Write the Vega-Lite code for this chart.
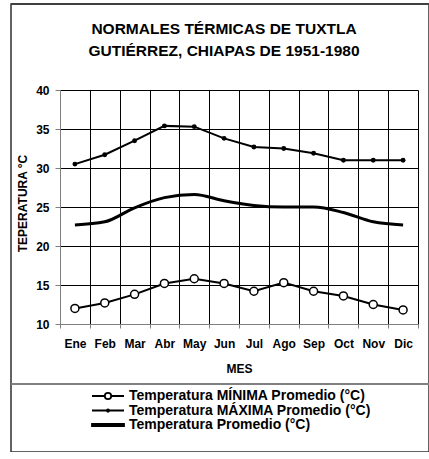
{
  "$schema": "https://vega.github.io/schema/vega-lite/v6.json",
  "autosize": {"type": "none"},
  "padding": {"left": 11, "top": 4, "right": 0, "bottom": 0},
  "width": 418,
  "height": 448,
  "background": "white",
  "config": {
    "font": "Liberation Sans",
    "view": {"stroke": "#303030", "strokeWidth": 1.5},
    "axis": {"labelFont": "Liberation Sans", "labelFontWeight": "bold", "labelFontSize": 12, "labelColor": "black", "titleFont": "Liberation Sans", "titleFontWeight": "bold", "titleFontSize": 12, "titleColor": "black"}
  },
  "title": {
    "text": ["NORMALES TÉRMICAS DE TUXTLA", "GUTIÉRREZ, CHIAPAS DE 1951-1980"],
    "font": "Liberation Sans",
    "fontSize": 15.5,
    "fontWeight": "bold",
    "color": "black",
    "anchor": "middle",
    "baseline": "top",
    "offset": -57,
    "lineHeight": 22,
    "dx": 4
  },
  "resolve": {"axis": {"x": "independent"}},
  "data": {"values": [
      {"mes": "Ene", "serie": "Temperatura MÁXIMA Promedio (°C)", "temp": 30.5},
      {"mes": "Feb", "serie": "Temperatura MÁXIMA Promedio (°C)", "temp": 31.7},
      {"mes": "Mar", "serie": "Temperatura MÁXIMA Promedio (°C)", "temp": 33.5},
      {"mes": "Abr", "serie": "Temperatura MÁXIMA Promedio (°C)", "temp": 35.4},
      {"mes": "May", "serie": "Temperatura MÁXIMA Promedio (°C)", "temp": 35.3},
      {"mes": "Jun", "serie": "Temperatura MÁXIMA Promedio (°C)", "temp": 33.8},
      {"mes": "Jul", "serie": "Temperatura MÁXIMA Promedio (°C)", "temp": 32.7},
      {"mes": "Ago", "serie": "Temperatura MÁXIMA Promedio (°C)", "temp": 32.5},
      {"mes": "Sep", "serie": "Temperatura MÁXIMA Promedio (°C)", "temp": 31.9},
      {"mes": "Oct", "serie": "Temperatura MÁXIMA Promedio (°C)", "temp": 31.0},
      {"mes": "Nov", "serie": "Temperatura MÁXIMA Promedio (°C)", "temp": 31.0},
      {"mes": "Dic", "serie": "Temperatura MÁXIMA Promedio (°C)", "temp": 31.0},
      {"mes": "Ene", "serie": "Temperatura Promedio (°C)", "temp": 22.7},
      {"mes": "Feb", "serie": "Temperatura Promedio (°C)", "temp": 23.1},
      {"mes": "Mar", "serie": "Temperatura Promedio (°C)", "temp": 24.9},
      {"mes": "Abr", "serie": "Temperatura Promedio (°C)", "temp": 26.2},
      {"mes": "May", "serie": "Temperatura Promedio (°C)", "temp": 26.6},
      {"mes": "Jun", "serie": "Temperatura Promedio (°C)", "temp": 25.8},
      {"mes": "Jul", "serie": "Temperatura Promedio (°C)", "temp": 25.2},
      {"mes": "Ago", "serie": "Temperatura Promedio (°C)", "temp": 25.0},
      {"mes": "Sep", "serie": "Temperatura Promedio (°C)", "temp": 25.0},
      {"mes": "Oct", "serie": "Temperatura Promedio (°C)", "temp": 24.3},
      {"mes": "Nov", "serie": "Temperatura Promedio (°C)", "temp": 23.1},
      {"mes": "Dic", "serie": "Temperatura Promedio (°C)", "temp": 22.7},
      {"mes": "Ene", "serie": "Temperatura MÍNIMA Promedio (°C)", "temp": 12.0},
      {"mes": "Feb", "serie": "Temperatura MÍNIMA Promedio (°C)", "temp": 12.7},
      {"mes": "Mar", "serie": "Temperatura MÍNIMA Promedio (°C)", "temp": 13.8},
      {"mes": "Abr", "serie": "Temperatura MÍNIMA Promedio (°C)", "temp": 15.2},
      {"mes": "May", "serie": "Temperatura MÍNIMA Promedio (°C)", "temp": 15.8},
      {"mes": "Jun", "serie": "Temperatura MÍNIMA Promedio (°C)", "temp": 15.2},
      {"mes": "Jul", "serie": "Temperatura MÍNIMA Promedio (°C)", "temp": 14.2},
      {"mes": "Ago", "serie": "Temperatura MÍNIMA Promedio (°C)", "temp": 15.3},
      {"mes": "Sep", "serie": "Temperatura MÍNIMA Promedio (°C)", "temp": 14.2},
      {"mes": "Oct", "serie": "Temperatura MÍNIMA Promedio (°C)", "temp": 13.6},
      {"mes": "Nov", "serie": "Temperatura MÍNIMA Promedio (°C)", "temp": 12.5},
      {"mes": "Dic", "serie": "Temperatura MÍNIMA Promedio (°C)", "temp": 11.8}
  ]},
  "encoding": {
    "y": {
      "field": "temp",
      "type": "quantitative",
      "scale": {"domain": [10, 40], "range": [320, 86], "nice": false, "zero": false},
      "axis": {
        "orient": "left",
        "offset": -49,
        "values": [10, 15, 20, 25, 30, 35, 40],
        "grid": true,
        "gridColor": "black",
        "gridOpacity": 1,
        "domainColor": "#808080",
        "tickColor": "#808080",
        "tickSize": 5,
        "labelPadding": 6,
        "title": "TEPERATURA °C",
        "titleAngle": -90,
        "titleX": -38,
        "titleY": 199,
        "titleAlign": "center",
        "titleBaseline": "middle"
      }
    }
  },
  "layer": [
    {
      "transform": [{"filter": {"field": "serie", "equal": "Temperatura Promedio (°C)"}}],
      "mark": {"type": "line", "color": "black", "strokeWidth": 3, "interpolate": "monotone"},
      "encoding": {
        "x": {
          "field": "mes",
          "type": "nominal",
          "sort": null,
          "scale": {"range": [49, 407], "paddingInner": 0, "paddingOuter": 0},
          "axis": {
            "orient": "bottom",
            "offset": -128,
            "tickBand": "extent",
            "grid": false,
            "domainColor": "#808080",
            "tickColor": "#808080",
            "tickSize": 4,
            "labelAngle": 0,
            "labelPadding": 10,
            "title": "MES",
            "titleX": 228,
            "titleY": 44,
            "titleBaseline": "middle"
          }
        }
      }
    },
    {
      "transform": [{"filter": {"field": "serie", "equal": "Temperatura MÁXIMA Promedio (°C)"}}],
      "mark": {"type": "line", "color": "black", "strokeWidth": 2},
      "encoding": {
        "x": {
          "field": "mes",
          "type": "nominal",
          "sort": null,
          "axis": {
            "orient": "top",
            "tickBand": "extent",
            "grid": true,
            "gridColor": "black",
            "gridOpacity": 1,
            "domain": false,
            "ticks": false,
            "labels": false,
            "title": null
          }
        }
      }
    },
    {
      "transform": [{"filter": {"field": "serie", "equal": "Temperatura MÁXIMA Promedio (°C)"}}],
      "mark": {"type": "point", "filled": true, "color": "black", "size": 24, "opacity": 1},
      "encoding": {"x": {"field": "mes", "type": "nominal", "sort": null, "axis": null}}
    },
    {
      "transform": [{"filter": {"field": "serie", "equal": "Temperatura MÍNIMA Promedio (°C)"}}],
      "mark": {"type": "line", "color": "black", "strokeWidth": 2},
      "encoding": {"x": {"field": "mes", "type": "nominal", "sort": null, "axis": null}}
    },
    {
      "transform": [{"filter": {"field": "serie", "equal": "Temperatura MÍNIMA Promedio (°C)"}}],
      "mark": {"type": "point", "filled": false, "fill": "white", "stroke": "black", "strokeWidth": 1.5, "size": 64, "opacity": 1, "fillOpacity": 1},
      "encoding": {"x": {"field": "mes", "type": "nominal", "sort": null, "axis": null}}
    },
    {
      "mark": {"type": "rule", "color": "#808080", "strokeWidth": 1.5},
      "encoding": {"y": {"datum": 2.31}}
    },
    {
      "mark": {"type": "rule", "color": "#404040", "strokeWidth": 2},
      "encoding": {"y": {"datum": 51.03}}
    },
    {
      "transform": [{"filter": {"field": "temp", "gt": 1000}}],
      "mark": {"type": "point", "color": "black", "opacity": 1},
      "encoding": {
        "x": {"field": "mes", "type": "nominal", "sort": null, "axis": null},
        "shape": {
          "field": "serie",
          "type": "nominal",
          "scale": {
            "domain": ["Temperatura MÍNIMA Promedio (°C)", "Temperatura MÁXIMA Promedio (°C)", "Temperatura Promedio (°C)"],
            "range": [
              "M-4,0H-0.8M0.8,0H4M0.8,0A0.8,0.8,0,1,1,-0.8,0A0.8,0.8,0,1,1,0.8,0Z",
              "M-4,0H4M0.3,0A0.3,0.3,0,1,1,-0.3,0A0.3,0.3,0,1,1,0.3,0Z",
              "M-4,-0.25H4V0.25H-4Z"
            ]
          },
          "legend": {
            "orient": "none",
            "legendX": 90,
            "legendY": 385,
            "title": null,
            "padding": 0,
            "symbolSize": 64,
            "symbolStrokeColor": "black",
            "symbolFillColor": "white",
            "symbolStrokeWidth": 1.8,
            "symbolOpacity": 1,
            "labelFont": "Liberation Sans",
            "labelFontSize": 14,
            "labelFontWeight": "bold",
            "labelColor": "black",
            "labelOffset": 14,
            "labelLimit": 400,
            "rowPadding": 0.5
          }
        }
      }
    }
  ]
}
